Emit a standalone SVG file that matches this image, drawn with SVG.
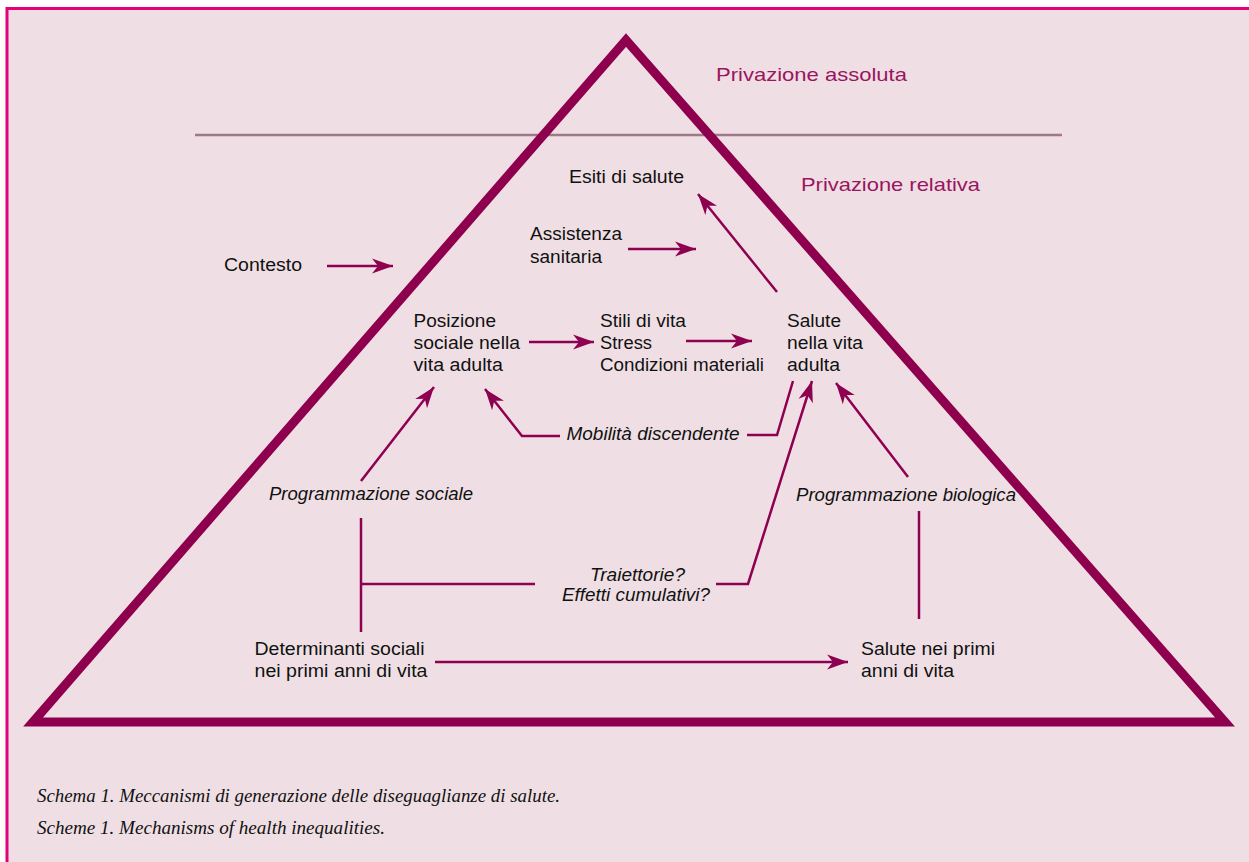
<svg xmlns="http://www.w3.org/2000/svg" width="1249" height="862" viewBox="0 0 1249 862">
<defs>
<style>
.t{font-family:"Liberation Sans",Arial,sans-serif;font-size:17.5px;fill:#111}
.i{font-family:"Liberation Sans",Arial,sans-serif;font-size:17.5px;font-style:italic;fill:#111}
.p{font-family:"Liberation Sans",Arial,sans-serif;font-size:19px;fill:#9a1560}
.c{font-family:"Liberation Serif","Times New Roman",serif;font-size:19px;font-style:italic;fill:#111}
.ln{fill:none;stroke:#8e0050;stroke-width:2.5}
.ar{fill:none;stroke:#8e0050;stroke-width:2.5;marker-end:url(#ah)}
</style>
<marker id="ah" viewBox="-22 -9 24 18" markerUnits="userSpaceOnUse" markerWidth="24" markerHeight="18" refX="0" refY="0" orient="auto">
<path d="M0,0 L-21,-7.5 L-15,0 L-21,7.5 Z" fill="#8e0050"/>
</marker>
</defs>
<rect x="6" y="7" width="1250" height="860" fill="#efdfe4"/>
<path d="M7,870 V8.5 H1250" fill="none" stroke="#e4007c" stroke-width="3"/>
<line x1="195" y1="135" x2="1062" y2="135" stroke="#a07887" stroke-width="2.5"/>
<polygon id="triangolo" points="33,722 626,40 1225,722" fill="none" stroke="#8e004e" stroke-width="9" stroke-linejoin="miter" stroke-miterlimit="10"/>
<g id="privazione-assoluta"><text class="p" x="716" y="81" textLength="191" lengthAdjust="spacingAndGlyphs">Privazione assoluta</text></g>
<g id="privazione-relativa"><text class="p" x="801" y="191" textLength="179" lengthAdjust="spacingAndGlyphs">Privazione relativa</text></g>
<g id="esiti"><text class="t" x="569" y="182.5" textLength="115" lengthAdjust="spacingAndGlyphs">Esiti di salute</text></g>
<g id="assistenza"><text class="t" x="530" y="240" textLength="92" lengthAdjust="spacingAndGlyphs">Assistenza</text><text class="t" x="530" y="262.5" textLength="72" lengthAdjust="spacingAndGlyphs">sanitaria</text></g>
<g id="contesto"><text class="t" x="224" y="271" textLength="78" lengthAdjust="spacingAndGlyphs">Contesto</text></g>
<g id="posizione"><text class="t" x="413.5" y="326.5" textLength="82.5" lengthAdjust="spacingAndGlyphs">Posizione</text><text class="t" x="413.5" y="348.5" textLength="106.5" lengthAdjust="spacingAndGlyphs">sociale nella</text><text class="t" x="413.5" y="370.5" textLength="89.5" lengthAdjust="spacingAndGlyphs">vita adulta</text></g>
<g id="stili"><text class="t" x="600" y="326.5" textLength="86" lengthAdjust="spacingAndGlyphs">Stili di vita</text><text class="t" x="600" y="348.5" textLength="52" lengthAdjust="spacingAndGlyphs">Stress</text><text class="t" x="600" y="370.5" textLength="164" lengthAdjust="spacingAndGlyphs">Condizioni materiali</text></g>
<g id="salute-adulta"><text class="t" x="787" y="326.5" textLength="54" lengthAdjust="spacingAndGlyphs">Salute</text><text class="t" x="787" y="348.5" textLength="76" lengthAdjust="spacingAndGlyphs">nella vita</text><text class="t" x="787" y="370.5" textLength="53" lengthAdjust="spacingAndGlyphs">adulta</text></g>
<g id="mobilita"><text class="i" x="566.5" y="440" textLength="173" lengthAdjust="spacingAndGlyphs">Mobilità discendente</text></g>
<g id="prog-sociale"><text class="i" x="269" y="500" textLength="204" lengthAdjust="spacingAndGlyphs">Programmazione sociale</text></g>
<g id="prog-biologica"><text class="i" x="796" y="501" textLength="220" lengthAdjust="spacingAndGlyphs">Programmazione biologica</text></g>
<g id="traiettorie"><text class="i" x="590" y="580.5" textLength="95" lengthAdjust="spacingAndGlyphs">Traiettorie?</text><text class="i" x="562" y="601" textLength="148" lengthAdjust="spacingAndGlyphs">Effetti cumulativi?</text></g>
<g id="determinanti"><text class="t" x="254.5" y="654.5" textLength="170" lengthAdjust="spacingAndGlyphs">Determinanti sociali</text><text class="t" x="254.5" y="676.5" textLength="173" lengthAdjust="spacingAndGlyphs">nei primi anni di vita</text></g>
<g id="salute-primi"><text class="t" x="861" y="654.5" textLength="134" lengthAdjust="spacingAndGlyphs">Salute nei primi</text><text class="t" x="861" y="676.5" textLength="93" lengthAdjust="spacingAndGlyphs">anni di vita</text></g>
<g id="connettori">
<line class="ar" x1="327" y1="266" x2="393" y2="266"/>
<line class="ar" x1="628" y1="249" x2="696" y2="249"/>
<line class="ar" x1="777" y1="292" x2="698" y2="194"/>
<line class="ar" x1="529" y1="342" x2="594" y2="342"/>
<line class="ar" x1="686" y1="341" x2="752" y2="341"/>
<polyline class="ln" points="793,381 777,435 747,435"/>
<polyline class="ar" points="560,436 522,436 485,389"/>
<line class="ar" x1="361" y1="481" x2="434" y2="387"/>
<line class="ln" x1="361" y1="518" x2="361" y2="632"/>
<line class="ln" x1="361" y1="584" x2="535" y2="584"/>
<polyline class="ar" points="716,584 748,584 812,381"/>
<line class="ar" x1="908" y1="477" x2="836" y2="383"/>
<line class="ln" x1="919" y1="511" x2="919" y2="619"/>
<line class="ar" x1="435" y1="662" x2="848" y2="662"/>
</g>
<g id="didascalia"><text class="c" x="37" y="802" textLength="523" lengthAdjust="spacingAndGlyphs">Schema 1. Meccanismi di generazione delle diseguaglianze di salute.</text><text class="c" x="37" y="834" textLength="348" lengthAdjust="spacingAndGlyphs">Scheme 1. Mechanisms of health inequalities.</text></g>
</svg>
